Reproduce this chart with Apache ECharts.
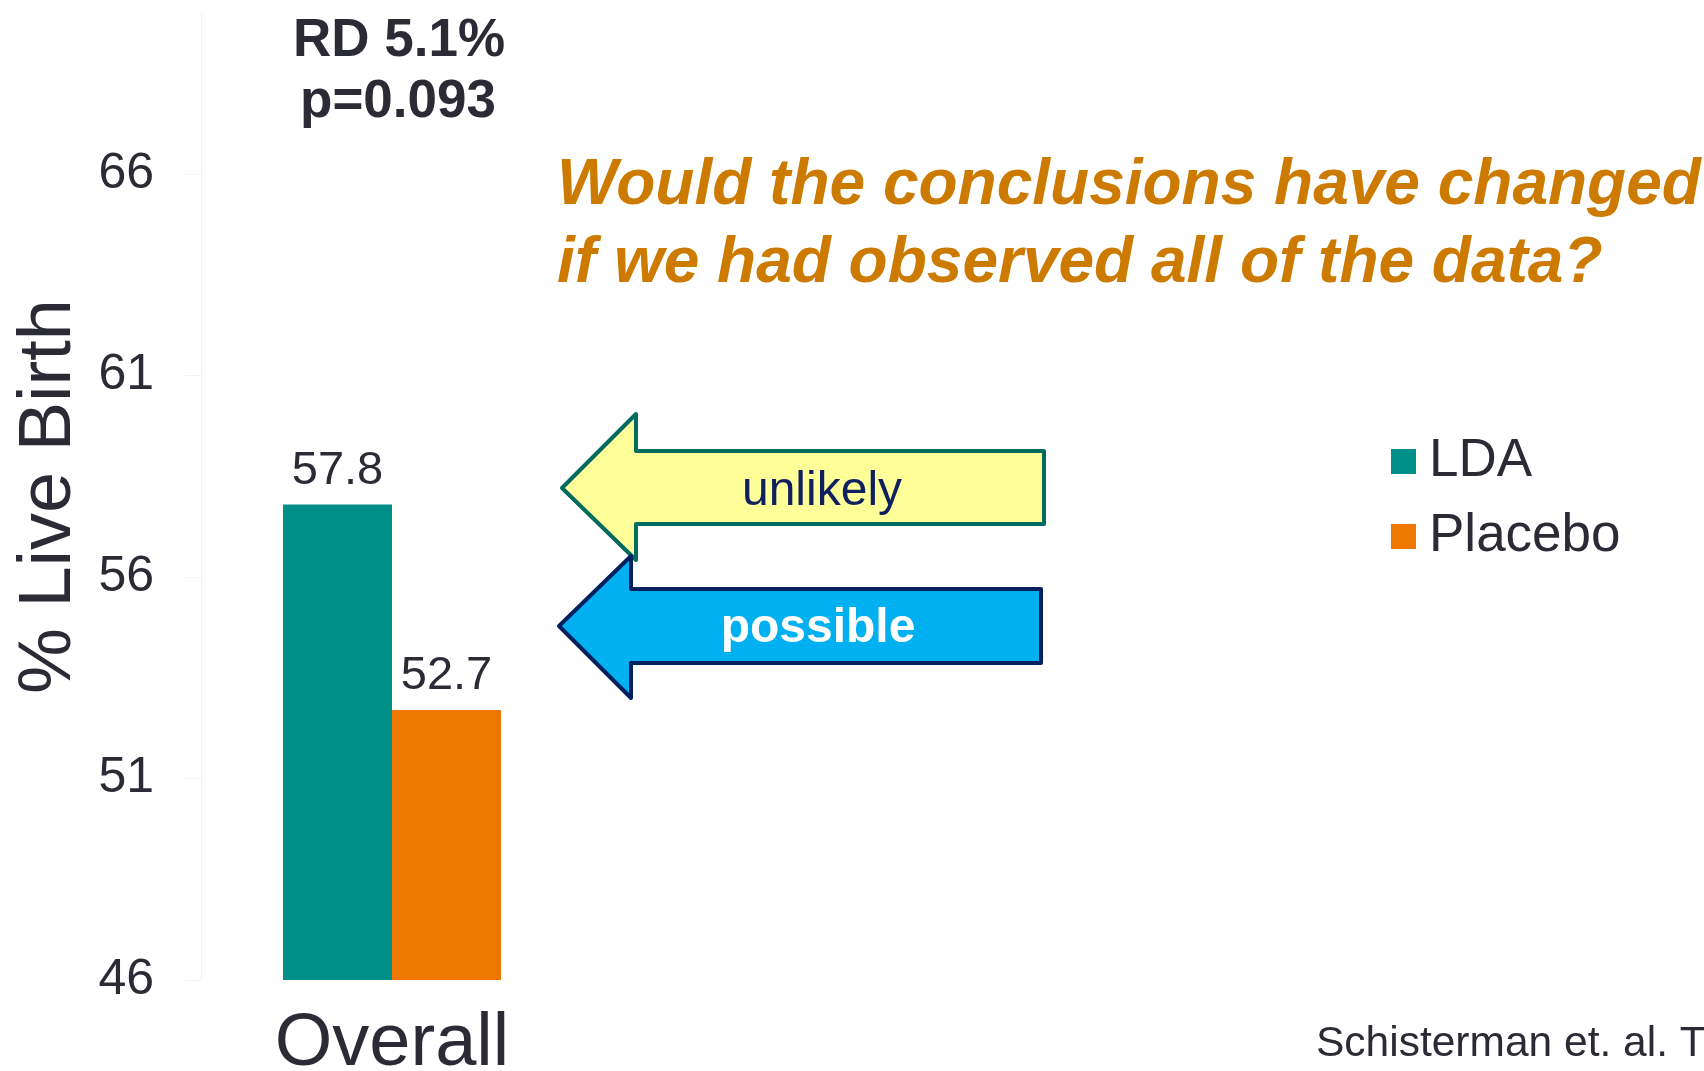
<!DOCTYPE html>
<html>
<head>
<meta charset="utf-8">
<title>% Live Birth: LDA vs Placebo</title>
<script src="https://cdn.jsdelivr.net/npm/echarts@6/dist/echarts.min.js"></script>
<style>
  html, body { margin: 0; padding: 0; background: #ffffff; }
  #chart { width: 1704px; height: 1071px; }
</style>
</head>
<body>
<div id="chart"></div>
<script>
// Live-birth rates by treatment arm
const categories = ['Overall'];
const seriesNames = ['LDA', 'Placebo'];
const ldaValues = [57.8];
const placeboValues = [52.7];

// Value axis range and step
const yMin = 46;
const yMax = 70;
const yStep = 5;

// Annotation text
const statLines = ['RD 5.1%', 'p=0.093'];
const questionLines = ['Would the conclusions have changed', 'if we had observed all of the data?'];
const arrowLabels = ['unlikely', 'possible'];
const citation = 'Schisterman et. al. T';

const FONT = "'Liberation Sans', Arial, Helvetica, sans-serif";
const INK = '#2b2b36';
const TEAL = '#008e89';
const ORANGE = '#ee7700';

const chart = echarts.init(document.getElementById('chart'), null, { renderer: 'canvas' });

// Left-pointing block arrow outline, head tip at (tx, ty)
function arrowPoints(tx, ty, headX, headTop, headBottom, shaftTop, shaftBottom, rightX) {
  return [
    [tx, ty], [headX, headTop], [headX, shaftTop], [rightX, shaftTop],
    [rightX, shaftBottom], [headX, shaftBottom], [headX, headBottom]
  ];
}

const valueLabel = {
  show: true, position: 'top', distance: 10,
  fontFamily: FONT, fontSize: 47, color: INK,
  formatter: p => p.value.toFixed(1)
};

const option = {
  backgroundColor: '#ffffff',
  animation: false,
  textStyle: { fontFamily: FONT, color: INK },
  grid: { left: 201, width: 382, top: 13, bottom: 91, containLabel: false, outerBoundsMode: 'none' },
  legend: {
    orient: 'vertical',
    left: 1386,
    top: 430,
    padding: 5,
    icon: 'rect',
    itemWidth: 25,
    itemHeight: 25,
    itemGap: 22,
    data: seriesNames,
    textStyle: { fontFamily: FONT, fontSize: 53, color: INK, padding: [0, 0, 0, 8] }
  },
  xAxis: {
    type: 'category',
    data: categories,
    axisLine: { show: false },
    axisTick: { show: false },
    axisLabel: { fontFamily: FONT, fontSize: 74, color: INK, margin: 28 }
  },
  yAxis: {
    type: 'value',
    min: yMin,
    max: yMax,
    interval: yStep,
    name: '% Live Birth',
    nameLocation: 'middle',
    nameGap: 114,
    nameTextStyle: { fontFamily: FONT, fontSize: 74, color: INK },
    axisLine: { show: true, lineStyle: { color: '#f2f2f2', width: 1 } },
    axisTick: { show: true, length: 16, lineStyle: { color: '#f2f2f2' } },
    splitLine: { show: false },
    axisLabel: {
      fontFamily: FONT, fontSize: 50, color: INK, margin: 47,
      showMaxLabel: false
    }
  },
  series: [
    {
      name: seriesNames[0],
      type: 'bar',
      data: ldaValues,
      barWidth: 109,
      barGap: '0%',
      itemStyle: { color: TEAL },
      label: valueLabel
    },
    {
      name: seriesNames[1],
      type: 'bar',
      data: placeboValues,
      barWidth: 109,
      barGap: '0%',
      itemStyle: { color: ORANGE },
      label: valueLabel
    }
  ],
  graphic: [
    {
      type: 'text', x: 399, y: 41,
      style: { text: statLines[0], font: 'bold 53px ' + FONT, fill: INK, align: 'center', verticalAlign: 'middle' }
    },
    {
      type: 'text', x: 398, y: 102,
      style: { text: statLines[1], font: 'bold 53px ' + FONT, fill: INK, align: 'center', verticalAlign: 'middle' }
    },
    {
      type: 'text',
      x: 557, y: 186 - 39,
      style: {
        text: questionLines.join('\n'),
        font: 'italic bold 64px ' + FONT, fill: '#cc7a00', lineHeight: 78, verticalAlign: 'top'
      }
    },
    {
      type: 'polygon',
      shape: { points: arrowPoints(562, 488, 636, 414, 560, 451, 524, 1044) },
      style: { fill: '#ffff99', stroke: '#006b5e', lineWidth: 4, lineJoin: 'round' }
    },
    {
      type: 'polygon',
      shape: { points: arrowPoints(559, 626, 631, 556, 698, 589, 663, 1041) },
      style: { fill: '#00b0f0', stroke: '#002060', lineWidth: 4, lineJoin: 'round' }
    },
    {
      type: 'text', x: 822, y: 492,
      style: { text: arrowLabels[0], font: '48px ' + FONT, fill: '#10205f', align: 'center', verticalAlign: 'middle' }
    },
    {
      type: 'text', x: 818, y: 629,
      style: { text: arrowLabels[1], font: 'bold 48px ' + FONT, fill: '#ffffff', align: 'center', verticalAlign: 'middle' }
    },
    {
      type: 'text', x: 1316, y: 1044,
      style: { text: citation, font: '42.5px ' + FONT, fill: INK, align: 'left', verticalAlign: 'middle' }
    }
  ]
};

chart.setOption(option);
</script>
</body>
</html>
